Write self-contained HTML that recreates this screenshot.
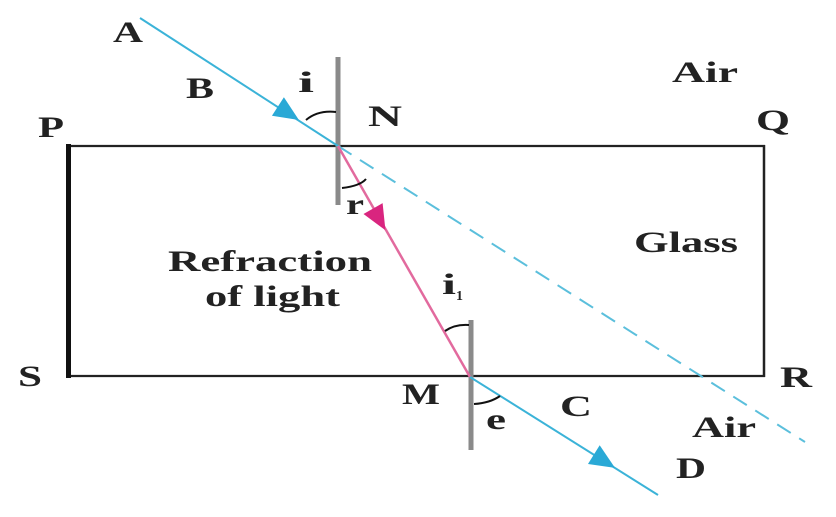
<!DOCTYPE html>
<html><head><style>html,body{margin:0;padding:0;background:#fff;}svg{display:block}</style></head><body>
<svg width="836" height="517" viewBox="0 0 836 517" xmlns="http://www.w3.org/2000/svg" font-family="'Liberation Serif', serif" font-weight="bold" fill="#222">
<rect x="0" y="0" width="836" height="517" fill="#fff"/>
<!-- glass block -->
<line x1="68" y1="146" x2="765" y2="146" stroke="#222" stroke-width="2.2"/>
<line x1="68" y1="376" x2="765" y2="376" stroke="#222" stroke-width="2.2"/>
<line x1="68.5" y1="144" x2="68.5" y2="378" stroke="#111" stroke-width="5"/>
<line x1="764" y1="145" x2="764" y2="377" stroke="#222" stroke-width="2.5"/>
<!-- normals -->
<line x1="338" y1="57" x2="338" y2="205" stroke="#8a8a8a" stroke-width="5"/>
<line x1="471" y1="320" x2="471" y2="450" stroke="#8a8a8a" stroke-width="5"/>
<!-- rays -->
<line x1="140" y1="18" x2="338" y2="146" stroke="#3bb3d8" stroke-width="2"/>
<line x1="338" y1="146" x2="805" y2="442" stroke="#5bbfdc" stroke-width="2" stroke-dasharray="16,10"/>
<line x1="338" y1="146" x2="470" y2="377" stroke="#e26a9e" stroke-width="2.5"/>
<line x1="470" y1="377" x2="658" y2="495" stroke="#3bb3d8" stroke-width="2"/>
<!-- arrowheads -->
<polygon points="13,0 -12,-11 -12,11" fill="#2aa9d6" transform="translate(288,113) rotate(32.9)"/>
<polygon points="13,0 -12,-11 -12,11" fill="#d9257f" transform="translate(379,219) rotate(60.3)"/>
<polygon points="13,0 -12,-11 -12,11" fill="#2aa9d6" transform="translate(604,461) rotate(32.1)"/>
<!-- angle arcs -->
<path d="M306,120 Q318,110 336,112" fill="none" stroke="#111" stroke-width="2"/>
<path d="M342,188 Q360,186 366,179" fill="none" stroke="#111" stroke-width="2"/>
<path d="M445,331 Q455,324 469,325" fill="none" stroke="#111" stroke-width="2"/>
<path d="M474,404 Q490,403 500,396" fill="none" stroke="#111" stroke-width="2"/>
<!-- labels -->
<g font-size="30">
<text x="113" y="42" textLength="30" lengthAdjust="spacingAndGlyphs">A</text>
<text x="186" y="98" textLength="28" lengthAdjust="spacingAndGlyphs">B</text>
<text x="298" y="92" textLength="16" lengthAdjust="spacingAndGlyphs">i</text>
<text x="368" y="126" textLength="34" lengthAdjust="spacingAndGlyphs">N</text>
<text x="38" y="137" textLength="26" lengthAdjust="spacingAndGlyphs">P</text>
<text x="756" y="130" textLength="34" lengthAdjust="spacingAndGlyphs">Q</text>
<text x="672" y="82" textLength="66" lengthAdjust="spacingAndGlyphs">Air</text>
<text x="346" y="214" textLength="18" lengthAdjust="spacingAndGlyphs">r</text>
<text x="634" y="252" textLength="104" lengthAdjust="spacingAndGlyphs">Glass</text>
<text x="168" y="271" textLength="204" lengthAdjust="spacingAndGlyphs">Refraction</text>
<text x="205" y="306" textLength="135" lengthAdjust="spacingAndGlyphs">of light</text>
<text x="442" y="294" textLength="14" lengthAdjust="spacingAndGlyphs">i</text>
<text x="18" y="386" textLength="24" lengthAdjust="spacingAndGlyphs">S</text>
<text x="780" y="387" textLength="32" lengthAdjust="spacingAndGlyphs">R</text>
<text x="402" y="404" textLength="38" lengthAdjust="spacingAndGlyphs">M</text>
<text x="486" y="429" textLength="20" lengthAdjust="spacingAndGlyphs">e</text>
<text x="560" y="416" textLength="32" lengthAdjust="spacingAndGlyphs">C</text>
<text x="692" y="437" textLength="64" lengthAdjust="spacingAndGlyphs">Air</text>
<text x="676" y="478" textLength="30" lengthAdjust="spacingAndGlyphs">D</text>
</g>
<text x="456" y="300" font-size="14">1</text>
</svg>
</body></html>
